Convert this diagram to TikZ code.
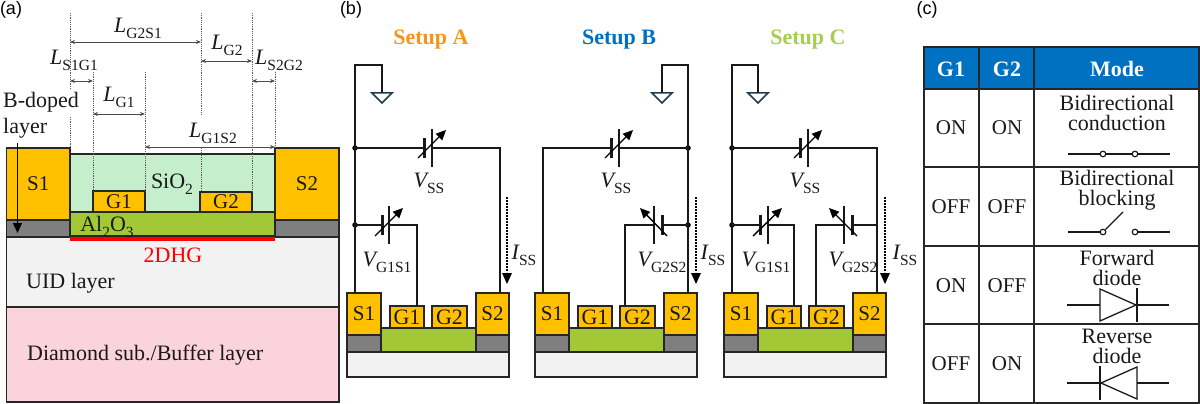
\documentclass[tikz,border=0pt]{standalone}
\usepackage{fontspec}
\setmainfont{Liberation Serif}
\newfontfamily\arialf{Liberation Sans}
\usetikzlibrary{arrows.meta,calc}
\definecolor{metal}{HTML}{FFC000}
\definecolor{dopegray}{HTML}{7F7F7F}
\definecolor{oxgreen}{HTML}{A2C935}
\definecolor{sioxgreen}{HTML}{C4EECC}
\definecolor{uidgray}{HTML}{F2F2F2}
\definecolor{subpink}{HTML}{FAD3DC}
\definecolor{hdrblue}{HTML}{0070C0}
\definecolor{setA}{HTML}{F7941D}
\definecolor{setC}{HTML}{A5CF4C}
\definecolor{gnddark}{HTML}{1F3F4F}
\newcommand{\fsz}[1]{\fontsize{#1}{#1}\selectfont}
\newcommand{\sublab}[2]{{\itshape #1}\raisebox{-0.28em}{\fsz{15.5}#2}}
% \blk{name}{x1}{y1}{x2}{y2}{fill}{text}
\newcommand{\blk}[7]{%
  \pgfmathsetmacro{\blkw}{#4-#2}\pgfmathsetmacro{\blkh}{#5-#3}%
  \node[blockbox,fill=#6,minimum width=\blkw pt,minimum height=\blkh pt] (#1) at ({(#2+#4)/2},{(#3+#5)/2}) {#7};}
% \device{prefix}
\newcommand{\device}[1]{%
  \blk{#1sub}{347}{352}{509}{377}{uidgray}{}
  \blk{#1gl}{347}{335}{381}{352}{dopegray}{}
  \blk{#1gr}{476}{335}{509}{352}{dopegray}{}
  \blk{#1ox}{381}{328}{476}{352}{oxgreen}{}
  \blk{#1S1}{347}{293}{381}{335}{metal}{S1}
  \blk{#1S2}{476}{293}{509}{335}{metal}{S2}
  \blk{#1G1}{390}{306}{424}{328}{metal}{\fsz{22}G1}
  \blk{#1G2}{432}{306}{467}{328}{metal}{\fsz{22}G2}}
% \batt{prefix}{x thin}{x thick}{y}{half-thin}{half-thick}
\newcommand{\batt}[6]{%
  \coordinate (#1thin) at (#2,#4);
  \coordinate (#1thick) at (#3,#4);
  \draw[plate] (#2,#4-#5) -- (#2,#4+#5);
  \draw[plate,line width=3pt] (#3,#4-#6) -- (#3,#4+#6);}
\newcommand{\gndsym}[2]{%
  \coordinate (#1) at (#2,93);
  \draw[gndtri] (#2-10,93) -- (#2+10,93) -- (#2,103) -- cycle;}
\tikzset{
  x=1pt,y=-1pt,
  blockbox/.style={draw=black!85,line width=1.5pt,inner sep=0pt,outer sep=0pt,text=black!90,font=\fsz{21}},
  wire/.style={draw=black!90,line width=1.6pt},
  plate/.style={draw=black!90,line width=1.6pt},
  tunearrow/.style={draw=black,line width=1.4pt,-{Triangle[length=10pt,width=9pt]}},
  gndtri/.style={draw=gnddark,line width=1.5pt,fill=white,line join=miter},
  junction/.style={circle,fill=black,inner sep=0pt,minimum size=5.5pt},
  guide/.style={draw=black!65,line width=.6pt,dash pattern=on 1.2pt off 1pt},
  dim/.style={draw=black!70,line width=.8pt,{Stealth[length=5pt,width=4pt]}-{Stealth[length=5pt,width=4pt]}},
  lab/.style={inner sep=0pt,font=\fsz{22},text=black!90},
  labl/.style={lab,anchor=west},
  iarrow/.style={draw=black,line width=1.6pt,dash pattern=on 1.6pt off 1.4pt},
  symb/.style={draw=black!90,line width=1.3pt},
  opencirc/.style={circle,draw=black!90,line width=1.2pt,fill=white,inner sep=0pt,minimum size=5.6pt},
  cell/.style={inner sep=0pt,font=\fsz{21},text=black!90},
  modetext/.style={inner sep=0pt,align=center,text=black!90,font=\fontsize{22}{20}\selectfont},
  hdr/.style={inner sep=0pt,font=\fsz{22}\bfseries,text=white},
}
\begin{document}
\begin{tikzpicture}
\useasboundingbox (0,0) rectangle (1200,404);
\fill[white] (0,0) rectangle (1200,404);
%%%%% panel labels
\node[inner sep=0pt,font=\arialf\fsz{18}] (pa) at (11,10) {(a)};
\node[inner sep=0pt,font=\arialf\fsz{18}] (pb) at (351,10) {(b)};
\node[inner sep=0pt,font=\arialf\fsz{18}] (pc) at (927,10) {(c)};
%%%%% panel a
\blk{sub}{6.5}{307}{339}{402}{subpink}{}
\blk{uid}{6.5}{237}{339}{307}{uidgray}{}
\blk{gl}{6.5}{220}{70}{237}{dopegray}{}
\blk{gr}{275}{220}{339}{237}{dopegray}{}
\blk{siox}{70}{154}{275}{213}{sioxgreen}{}
\blk{alox}{70}{212}{275}{236}{oxgreen}{}
\blk{s1}{6.5}{148}{70}{220}{metal}{S1}
\blk{s2}{275}{148}{339}{220}{metal}{S2}
\blk{g1}{93}{191}{145}{212}{metal}{G1}
\blk{g2}{200}{192}{252}{212}{metal}{G2}
\fill[red] (70,237) rectangle (275,241);
\node[lab] (tsio) at (172,184) {SiO\raisebox{-0.28em}{\fsz{15.5}2}};
\node[lab] (talo) at (107,227) {Al\raisebox{-0.28em}{\fsz{15.5}2}O\raisebox{-0.28em}{\fsz{15.5}3}};
\node[lab,text=red] (t2d) at (173,255) {2DHG};
\node[labl] (tuid) at (26,283) {UID layer};
\node[labl] (tdia) at (27,355) {Diamond sub./Buffer layer};
\node[labl] (tb1) at (3,102) {B-doped};
\node[labl] (tb2) at (3,128) {layer};
\coordinate (ba) at (17.5,143);
\coordinate (bb) at (17.5,233);
\draw[draw=black,line width=1.3pt,-{Triangle[length=10pt,width=9pt]}] (ba) -- (bb);
% guides
\draw[guide] (70,13) -- (70,90);
\draw[guide] (70,117) -- (70,148);
\draw[guide] (93,72) -- (93,191);
\draw[guide] (145,72) -- (145,191);
\draw[guide] (201,13) -- (201,116);
\draw[guide] (201,148) -- (201,192);
\draw[guide] (252,13) -- (252,192);
\draw[guide] (275,72) -- (275,148);
% dims
\coordinate (d1) at (70,42); \coordinate (d2) at (201,42);
\draw[dim] (d1) -- (d2);
\coordinate (d3) at (201,61); \coordinate (d4) at (252,61);
\draw[dim] (d3) -- (d4);
\coordinate (d5) at (70,81); \coordinate (d6) at (93,81);
\draw[dim] (d5) -- (d6);
\coordinate (d7) at (252,81); \coordinate (d8) at (275,81);
\draw[dim] (d7) -- (d8);
\coordinate (d9) at (93,114); \coordinate (d10) at (145,114);
\draw[dim] (d9) -- (d10);
\coordinate (d11) at (145,147); \coordinate (d12) at (275,147);
\draw[dim] (d11) -- (d12);
\node[lab] (l1) at (138,28) {\sublab{L}{G2S1}};
\node[lab] (l2) at (227,45) {\sublab{L}{G2}};
\node[lab] (l3) at (74,60) {\sublab{L}{S1G1}};
\node[lab] (l4) at (279,60) {\sublab{L}{S2G2}};
\node[lab] (l5) at (119,97) {\sublab{L}{G1}};
\node[lab] (l6) at (213,133) {\sublab{L}{G1S2}};
%%%%% Setup titles
\node[lab,font=\fsz{22}\bfseries,text=setA] (sa) at (431,40) {Setup A};
\node[lab,font=\fsz{22}\bfseries,text=hdrblue] (sb) at (619,40) {Setup B};
\node[lab,font=\fsz{22}\bfseries,text=setC] (sc) at (808,40) {Setup C};
%%%%% Setup A
\begin{scope}
\device{A}
\coordinate (Atl) at (355,65); \coordinate (Atr) at (382,65);
\node[junction] (Aj1) at (355,148) {};
\node[junction] (Aj2) at (355,225) {};
\coordinate (Ac1) at (500,148);
\coordinate (Ac2) at (417,225);
\gndsym{Agnd}{382}
\batt{Av}{432}{424}{148}{19}{10}
\batt{Ag}{389}{382}{225}{19}{10}
\draw[wire] (Agnd) -- (Atr) -- (Atl) -- (Aj1.center) -- (Aj2.center) -- (AS1.north -| Aj2);
\draw[wire] (Aj1.center) -- (Avthick);
\draw[wire] (Avthin) -- (Ac1) -- (AS2.north -| Ac1);
\draw[wire] (Aj2.center) -- (Agthick);
\draw[wire] (Agthin) -- (Ac2) -- (AG1.north -| Ac2);
\draw[tunearrow] (418,158) -- (446,130);
\draw[tunearrow] (375,236) -- (403,208);
\node[lab] (Alv) at (429,183) {\sublab{V}{SS}};
\node[lab] (Alg) at (387,262) {\sublab{V}{G1S1}};
\draw[iarrow] (507,197) -- (507,272);
\fill[black] (502,273) -- (512,273) -- (507,284) -- cycle;
\node[lab] (Ali) at (524,255) {\sublab{I}{SS}};
\end{scope}
%%%%% Setup B
\begin{scope}[xshift=188pt]
\device{B}
\coordinate (Btr) at (500,65); \coordinate (Btl) at (474,65);
\node[junction] (Bj1) at (500,148) {};
\node[junction] (Bj2) at (500,225) {};
\coordinate (Bc1) at (355,148);
\coordinate (Bc2) at (437,225);
\gndsym{Bgnd}{474}
\batt{Bv}{431}{423}{148}{19}{10}
\batt{Bg}{466}{474}{225}{19}{10}
\draw[wire] (Bgnd) -- (Btl) -- (Btr) -- (Bj1.center) -- (Bj2.center) -- (BS2.north -| Bj2);
\draw[wire] (BS1.north -| Bc1) -- (Bc1) -- (Bvthick);
\draw[wire] (Bvthin) -- (Bj1.center);
\draw[wire] (Bj2.center) -- (Bgthick);
\draw[wire] (Bgthin) -- (Bc2) -- (BG2.north -| Bc2);
\draw[tunearrow] (417,158) -- (445,130);
\draw[tunearrow] (479,236) -- (452,208);
\node[lab] (Blv) at (428,183) {\sublab{V}{SS}};
\node[lab] (Blg) at (474,262) {\sublab{V}{G2S2}};
\draw[iarrow] (508,197) -- (508,272);
\fill[black] (503,273) -- (513,273) -- (508,284) -- cycle;
\node[lab] (Bli) at (525,255) {\sublab{I}{SS}};
\end{scope}
%%%%% Setup C
\begin{scope}[xshift=377pt]
\device{C}
\coordinate (Ctl) at (355,65); \coordinate (Ctr) at (381,65);
\node[junction] (Cj1) at (355,148) {};
\node[junction] (Cj2) at (355,225) {};
\coordinate (Cc1) at (500,148);
\coordinate (Cc2) at (417,225);
\coordinate (Cc3) at (439,225);
\coordinate (Cc4) at (500,225);
\gndsym{Cgnd}{381}
\batt{Cv}{431}{423}{148}{19}{10}
\batt{Cg}{391}{383}{225}{19}{10}
\batt{Ch}{467}{475}{225}{19}{10}
\draw[wire] (Cgnd) -- (Ctr) -- (Ctl) -- (Cj1.center) -- (Cj2.center) -- (CS1.north -| Cj2);
\draw[wire] (Cj1.center) -- (Cvthick);
\draw[wire] (Cvthin) -- (Cc1) -- (CS2.north -| Cc1);
\draw[wire] (Cj2.center) -- (Cgthick);
\draw[wire] (Cgthin) -- (Cc2) -- (CG1.north -| Cc2);
\draw[wire] (Cc4) -- (Chthick);
\draw[wire] (Chthin) -- (Cc3) -- (CG2.north -| Cc3);
\draw[tunearrow] (417,158) -- (445,130);
\draw[tunearrow] (376,236) -- (405,208);
\draw[tunearrow] (480,236) -- (452,208);
\node[lab] (Clv) at (428,183) {\sublab{V}{SS}};
\node[lab] (Clg) at (389,262) {\sublab{V}{G1S1}};
\node[lab] (Clh) at (476,262) {\sublab{V}{G2S2}};
\draw[iarrow] (508,197) -- (508,272);
\fill[black] (503,273) -- (513,273) -- (508,284) -- cycle;
\node[lab] (Cli) at (528,255) {\sublab{I}{SS}};
\end{scope}
%%%%% Table
\fill[hdrblue] (924,47) rectangle (1199,89);
\draw[draw=black!85,line width=1.2pt] (924,47) rectangle (1199,403);
\foreach \yy in {89,167,246,324} \draw[draw=black!85,line width=1.2pt] (924,\yy) -- (1199,\yy);
\foreach \xx in {979,1034} \draw[draw=black!85,line width=1.2pt] (\xx,47) -- (\xx,403);
\node[hdr] (h1) at (951,69) {G1};
\node[hdr] (h2) at (1007,69) {G2};
\node[hdr] (h3) at (1117,69) {Mode};
\node[cell] (r1a) at (951,128) {ON};  \node[cell] (r1b) at (1007,128) {ON};
\node[cell] (r2a) at (951,207) {OFF}; \node[cell] (r2b) at (1007,207) {OFF};
\node[cell] (r3a) at (951,286) {ON};  \node[cell] (r3b) at (1007,286) {OFF};
\node[cell] (r4a) at (951,364) {OFF}; \node[cell] (r4b) at (1007,364) {ON};
\node[modetext] (m1) at (1117,113) {Bidirectional\\conduction};
\node[modetext] (m2) at (1117,190) {Bidirectional\\blocking};
\node[modetext] (m3) at (1117,268) {Forward\\diode};
\node[modetext] (m4) at (1117,346) {Reverse\\diode};
% switch closed
\coordinate (s1l) at (1068,154); \coordinate (s1r) at (1170,154);
\node[opencirc] (s1a) at (1103,154) {};
\node[opencirc] (s1b) at (1135,154) {};
\draw[symb] (s1l) -- (s1a) -- (s1b) -- (s1r);
% switch open
\coordinate (s2l) at (1068,232); \coordinate (s2r) at (1170,232); \coordinate (s2t) at (1123,212);
\node[opencirc] (s2a) at (1103,232) {};
\node[opencirc] (s2b) at (1135,232) {};
\draw[symb] (s2l) -- (s2a);
\draw[symb] (s2a) -- (s2t);
\draw[symb] (s2b) -- (s2r);
% forward diode
\draw[symb] (1067,305) -- (1100,305);
\draw[symb,line join=miter] (1100,289) -- (1136,305) -- (1100,321) -- cycle;
\draw[symb] (1137,288) -- (1137,322);
\draw[symb] (1137,305) -- (1169,305);
% reverse diode
\draw[symb] (1067,383) -- (1100,383);
\draw[symb] (1100,366) -- (1100,400);
\draw[symb,line join=miter] (1137,367) -- (1101,383) -- (1137,399) -- cycle;
\draw[symb] (1137,383) -- (1169,383);
\end{tikzpicture}
\end{document}
